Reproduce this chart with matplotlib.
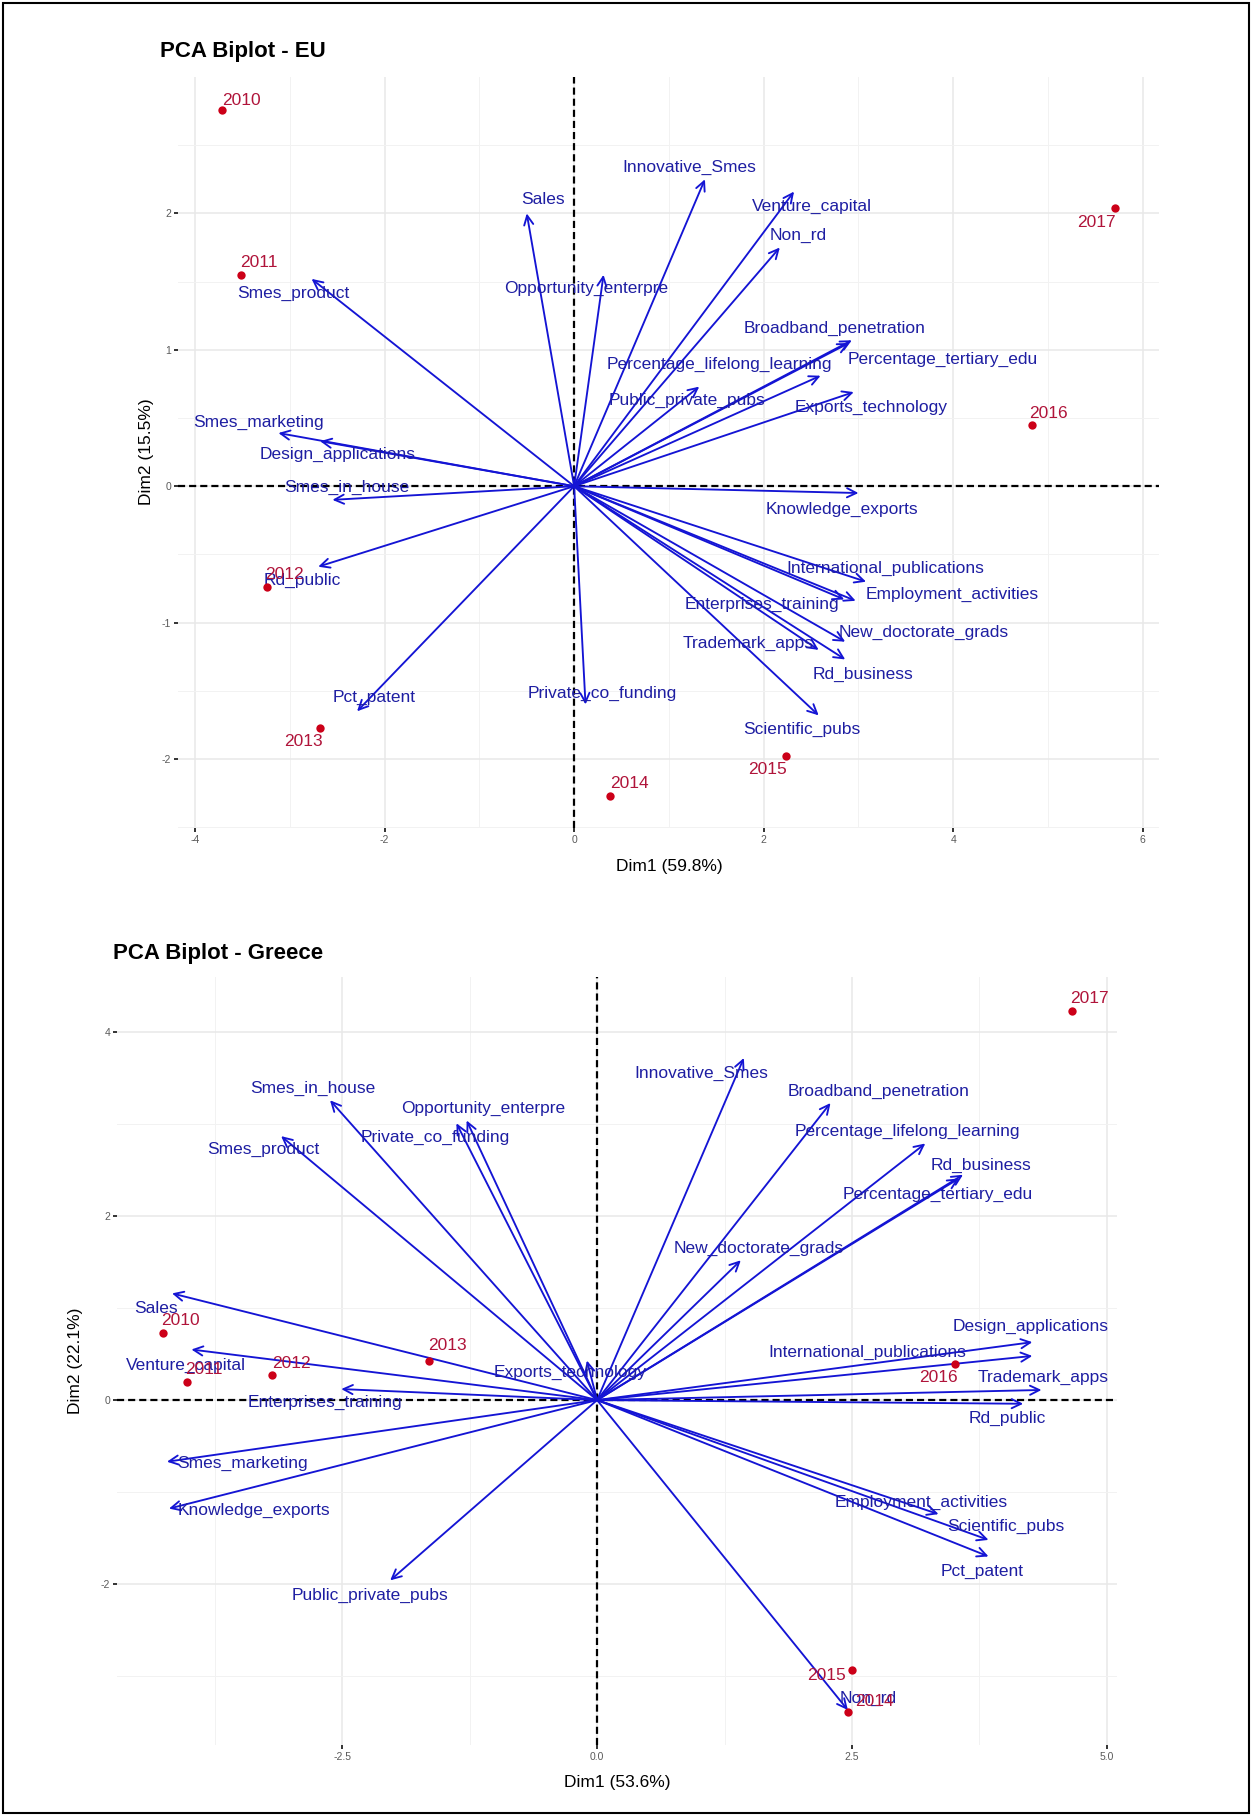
import matplotlib
matplotlib.use("Agg")
from matplotlib import pyplot as plt
from matplotlib.patches import Rectangle

plt.rcParams['font.family'] = ['Liberation Sans', 'DejaVu Sans']
plt.rcParams['axes.unicode_minus'] = False

# ---------------- EU ----------------
eu_vars = ['Sales', 'Opportunity_enterpre', 'Smes_product', 'Smes_marketing',
           'Design_applications', 'Smes_in_house', 'Rd_public', 'Pct_patent',
           'Private_co_funding', 'Knowledge_exports', 'International_publications',
           'Employment_activities', 'Enterprises_training', 'New_doctorate_grads',
           'Trademark_apps', 'Rd_business', 'Scientific_pubs', 'Innovative_Smes',
           'Venture_capital', 'Non_rd', 'Broadband_penetration',
           'Percentage_tertiary_edu', 'Percentage_lifelong_learning',
           'Public_private_pubs', 'Exports_technology']
eu_var_x = [-0.50, 0.31, -2.77, -3.12, -2.68, -2.55, -2.70, -2.29, 0.12, 3.00, 3.08,
            2.97, 2.85, 2.86, 2.58, 2.86, 2.58, 1.38, 2.32, 2.17, 2.93, 2.90, 2.60,
            1.32, 2.95]
eu_var_y = [2.00, 1.55, 1.52, 0.39, 0.33, -0.10, -0.59, -1.65, -1.60, -0.05, -0.70,
            -0.84, -0.83, -1.14, -1.20, -1.27, -1.68, 2.25, 2.16, 1.75, 1.07, 1.05,
            0.81, 0.73, 0.69]
eu_lab_x = [-0.33, 0.13, -2.96, -3.33, -2.50, -2.40, -2.87, -2.11, 0.30, 2.83, 3.28,
            3.99, 1.98, 3.69, 1.84, 3.05, 2.40, 1.21, 2.51, 2.36, 2.75, 3.89, 1.53,
            1.19, 3.13]
eu_lab_y = [2.10, 1.45, 1.41, 0.47, 0.23, -0.01, -0.69, -1.55, -1.52, -0.17, -0.60,
            -0.79, -0.87, -1.07, -1.15, -1.38, -1.78, 2.34, 2.05, 1.84, 1.16, 0.93,
            0.89, 0.63, 0.58]

eu_years = ['2010', '2011', '2012', '2013', '2014', '2015', '2016', '2017']
eu_ind_x = [-3.71, -3.51, -3.24, -2.68, 0.38, 2.24, 4.83, 5.71]
eu_ind_y = [2.76, 1.55, -0.74, -1.77, -2.27, -1.98, 0.45, 2.04]
eu_year_lx = [-3.51, -3.33, -3.06, -2.86, 0.58, 2.04, 5.00, 5.51]
eu_year_ly = [2.83, 1.64, -0.65, -1.87, -2.18, -2.08, 0.53, 1.93]

eu_xticks = [-4, -2, 0, 2, 4, 6]
eu_xticklabels = ['-4', '-2', '0', '2', '4', '6']
eu_yticks = [-2, -1, 0, 1, 2]
eu_yticklabels = ['-2', '-1', '0', '1', '2']

# ---------------- Greece ----------------
gr_vars = ['Smes_in_house', 'Opportunity_enterpre', 'Private_co_funding',
           'Smes_product', 'Sales', 'Venture_capital', 'Exports_technology',
           'Enterprises_training', 'Smes_marketing', 'Knowledge_exports',
           'Public_private_pubs', 'Innovative_Smes', 'Broadband_penetration',
           'Percentage_lifelong_learning', 'Rd_business', 'Percentage_tertiary_edu',
           'New_doctorate_grads', 'Design_applications', 'International_publications',
           'Trademark_apps', 'Rd_public', 'Employment_activities', 'Scientific_pubs',
           'Pct_patent', 'Non_rd']
gr_var_x = [-2.62, -1.28, -1.38, -3.10, -4.17, -3.98, -0.10, -2.51, -4.22, -4.20,
            -2.03, 1.44, 2.29, 3.22, 3.59, 3.55, 1.41, 4.27, 4.27, 4.36, 4.18, 3.35,
            3.84, 3.84, 2.46]
gr_var_y = [3.26, 3.04, 3.01, 2.87, 1.16, 0.55, 0.43, 0.12, -0.67, -1.18, -1.96, 3.72,
            3.23, 2.79, 2.45, 2.41, 1.52, 0.63, 0.48, 0.11, -0.04, -1.24, -1.52, -1.70,
            -3.37]
gr_lab_x = [-2.79, -1.12, -1.59, -3.27, -4.33, -4.03, -0.26, -2.67, -3.48, -3.37,
            -2.23, 1.02, 2.76, 3.04, 3.77, 3.34, 1.59, 4.25, 2.65, 4.38, 4.02, 3.18,
            4.01, 3.78, 2.66]
gr_lab_y = [3.39, 3.17, 2.86, 2.72, 1.00, 0.38, 0.30, -0.03, -0.69, -1.20, -2.12, 3.55,
            3.36, 2.92, 2.55, 2.24, 1.65, 0.80, 0.52, 0.25, -0.20, -1.11, -1.37, -1.86,
            -3.24]

gr_years = ['2010', '2011', '2012', '2013', '2014', '2015', '2016', '2017']
gr_ind_x = [-4.26, -4.02, -3.19, -1.65, 2.46, 2.50, 3.51, 4.66]
gr_ind_y = [0.73, 0.20, 0.27, 0.43, -3.39, -2.93, 0.39, 4.23]
gr_year_lx = [-4.09, -3.86, -3.00, -1.47, 2.72, 2.25, 3.35, 4.83]
gr_year_ly = [0.87, 0.33, 0.40, 0.59, -3.28, -2.99, 0.25, 4.37]

gr_xticks = [-2.5, 0.0, 2.5, 5.0]
gr_xticklabels = ['-2.5', '0.0', '2.5', '5.0']
gr_yticks = [-2, 0, 2, 4]
gr_yticklabels = ['-2', '0', '2', '4']

ARROW_C = '#1414d4'
VAR_TXT = '#1e1ea2'
DOT_C = '#cc0018'
YEAR_TXT = '#b0143a'


def biplot(ax, vx, vy, vnames, lx, ly, px, py, years, ylx, yly,
           xlim, ylim, xt, xtl, yt, ytl, xminor, yminor):
    ax.set_xlim(*xlim)
    ax.set_ylim(*ylim)
    ax.set_xticks(xt)
    ax.set_xticklabels(xtl)
    ax.set_yticks(yt)
    ax.set_yticklabels(ytl)
    ax.set_xticks(xminor, minor=True)
    ax.set_yticks(yminor, minor=True)
    ax.grid(True, which='major', color='#e8e8e8', lw=1.1)
    ax.grid(True, which='minor', color='#f2f2f2', lw=0.7)
    ax.set_axisbelow(True)
    for s in ax.spines.values():
        s.set_visible(False)
    ax.tick_params(which='major', length=3, width=1.4, color='#333333',
                   labelsize=7.5, labelcolor='#5a5a5a', pad=2)
    ax.tick_params(which='minor', length=0)

    # dashed reference lines through the origin
    ax.axhline(0, color='black', lw=1.6, ls=(0, (3.2, 1.8)), zorder=2)
    ax.axvline(0, color='black', lw=1.6, ls=(0, (3.2, 1.8)), zorder=2)

    for x, y in zip(vx, vy):
        ax.annotate('', xy=(x, y), xytext=(0, 0),
                    arrowprops=dict(arrowstyle='->,head_length=0.45,head_width=0.22',
                                    color=ARROW_C, lw=1.35, mutation_scale=15,
                                    shrinkA=0, shrinkB=0), zorder=3)
    for name, x, y in zip(vnames, lx, ly):
        ax.text(x, y, name, color=VAR_TXT, fontsize=12.5, ha='center',
                va='center', zorder=4)

    ax.scatter(px, py, s=36, color=DOT_C, zorder=5, linewidths=0)
    for name, x, y in zip(years, ylx, yly):
        ax.text(x, y, name, color=YEAR_TXT, fontsize=12.5, ha='center',
                va='center', zorder=5)


fig = plt.figure(figsize=(12.54, 18.16), dpi=100)

ax1 = fig.add_axes([0.1419, 0.5441, 0.7823, 0.4135])
biplot(ax1, eu_var_x, eu_var_y, eu_vars, eu_lab_x, eu_lab_y,
       eu_ind_x, eu_ind_y, eu_years, eu_year_lx, eu_year_ly,
       (-4.18, 6.17), (-2.505, 3.0), eu_xticks, eu_xticklabels,
       eu_yticks, eu_yticklabels, [-3, -1, 1, 3, 5], [-2.5, -1.5, -0.5, 0.5, 1.5, 2.5])

ax2 = fig.add_axes([0.0933, 0.0391, 0.7974, 0.4229])
biplot(ax2, gr_var_x, gr_var_y, gr_vars, gr_lab_x, gr_lab_y,
       gr_ind_x, gr_ind_y, gr_years, gr_year_lx, gr_year_ly,
       (-4.71, 5.10), (-3.75, 4.60), gr_xticks, gr_xticklabels,
       gr_yticks, gr_yticklabels, [-3.75, -1.25, 1.25, 3.75], [-3, -1, 1, 3])

fig.text(0.1276, 0.9714, 'PCA Biplot - EU', fontsize=16, fontweight='bold',
         ha='left', va='center')
fig.text(0.0901, 0.4752, 'PCA Biplot - Greece', fontsize=16, fontweight='bold',
         ha='left', va='center')

fig.text(0.5335, 0.5226, 'Dim1 (59.8%)', fontsize=12.5, ha='center', va='center')
fig.text(0.1172, 0.751, 'Dim2 (15.5%)', fontsize=12.5, ha='center', va='center',
         rotation=90)
fig.text(0.492, 0.0187, 'Dim1 (53.6%)', fontsize=12.5, ha='center', va='center')
fig.text(0.0606, 0.2505, 'Dim2 (22.1%)', fontsize=12.5, ha='center', va='center',
         rotation=90)

fig.patches.append(Rectangle((0.0024, 0.0017), 0.9936, 0.9966,
                             transform=fig.transFigure, fill=False,
                             lw=1.5, ec='black'))

fig.savefig('out.png', dpi=100)
